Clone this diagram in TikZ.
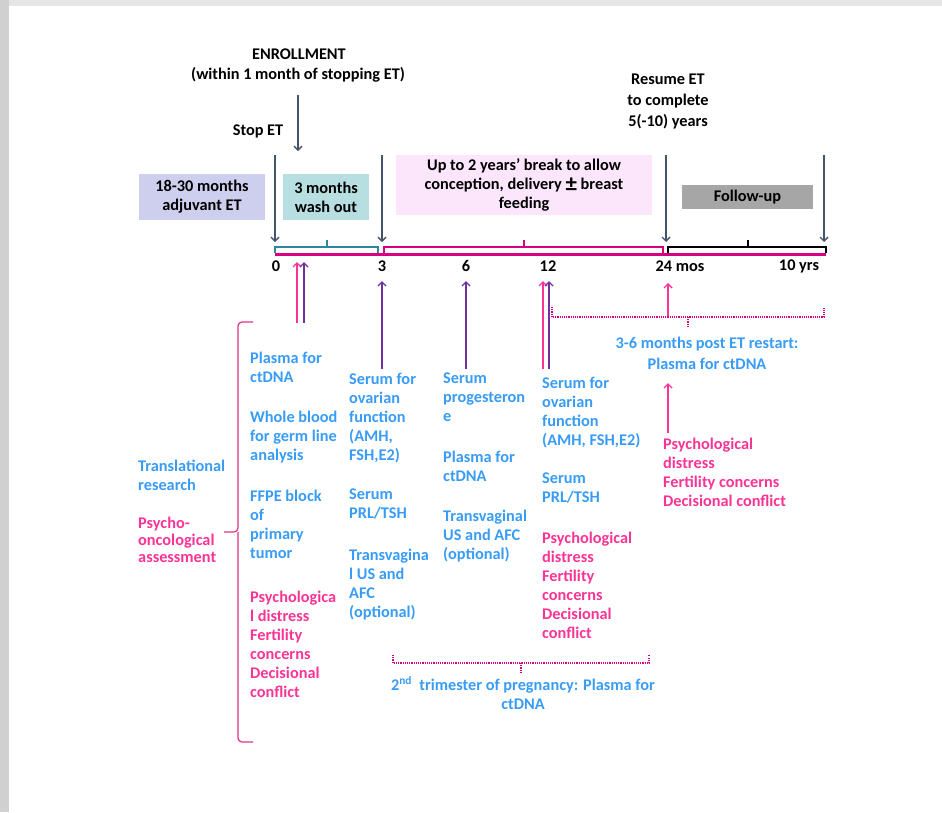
\documentclass[tikz,border=0pt]{standalone}
\usepackage{fontspec}
\setmainfont{Carlito}
\usetikzlibrary{arrows.meta}
\definecolor{slate}{RGB}{68,84,106}
\definecolor{txtblue}{RGB}{56,156,246}
\definecolor{txtpink}{RGB}{250,52,150}
\definecolor{lnpurple}{RGB}{112,48,160}
\definecolor{lnmagenta}{RGB}{214,0,128}
\definecolor{lnteal}{RGB}{49,133,156}
\definecolor{boxlav}{RGB}{206,206,238}
\definecolor{boxteal}{RGB}{183,222,224}
\definecolor{boxpink}{RGB}{252,230,252}
\definecolor{boxgray}{RGB}{166,166,166}
\tikzstyle{lbl}=[font=\fontsize{16.3}{19}\selectfont\bfseries, inner sep=0pt]
\tikzstyle{blutxt}=[lbl, text=txtblue, align=left, anchor=north west, yshift=-2pt]
\tikzstyle{pnktxt}=[lbl, text=txtpink, align=left, anchor=north west, yshift=-2pt]
\tikzstyle{phase}=[lbl, align=center, text=black]
\tikzstyle{downarrow}=[draw, -{Straight Barb[length=4pt,width=8pt]}, slate, line width=1.4pt]
\tikzstyle{uparrow}=[draw, -{Straight Barb[length=4pt,width=8pt]}, line width=1.4pt]
\tikzstyle{dotline}=[draw, lnmagenta, line width=1.1pt, dash pattern=on 1.1pt off 1.1pt]

\begin{document}
\begin{tikzpicture}[x=1pt, y=-1pt]

    \useasboundingbox (0,0) rectangle (942,812);
    \fill[gray!20] (0,0) rectangle (942,6);
    \fill[gray!37] (0,0) rectangle (9,812);

    % top labels
    \node[phase] (enrol) at (299,54) {ENROLLMENT};
    \node[phase] (within) at (298,75) {(within 1 month of stopping ET)};
    \node[phase] (stop) at (258,131) {Stop ET};
    \node[phase, font=\fontsize{16.3}{21}\selectfont\bfseries] (resume) at (668,101) {Resume ET\\to complete\\5(-10) years};

    % phase boxes
    \node[phase, fill=boxlav, minimum width=126pt, minimum height=46pt] (adj) at (202,197) {18-30 months\\adjuvant ET};
    \node[phase, fill=boxteal, minimum width=86pt, minimum height=46pt] (wash) at (326,197) {3 months\\wash out};
    \node[phase, fill=boxpink, minimum width=256pt, minimum height=60pt] (brk) at (524,185) {Up to 2 years’ break to allow\\conception, delivery {\fontsize{23}{19}\selectfont\raisebox{-1.5pt}{±}} breast\\feeding};
    \node[phase, fill=boxgray, minimum width=131pt, minimum height=24pt] (fup) at (747.5,197) {Follow-up};

    \foreach \n/\x/\ya/\yb in {en/298/95/151, s0/275/155/242, s3/382/155/242, s24/666/155/242, s10/824/155/242} {
        \coordinate (\n a) at (\x,\ya);
        \coordinate (\n b) at (\x,\yb);
        \path[downarrow] (\n a) -- (\n b);
    }

    % time line
    \draw[lnmagenta, line width=2.5pt] (275,254.5) -- (826,254.5);
    \draw[lnteal, line width=1.8pt] (275,253) |- (378,247) -- (378,253) (327,247) -- (327,240);
    \draw[lnmagenta, line width=1.8pt] (384,253) |- (663,247) -- (663,253) (524,247) -- (524,240);
    \draw[black, line width=1.8pt] (668,253) |- (826,247) -- (826,253) (748,247) -- (748,240);

    \foreach \x/\lab in {276/0, 382/3, 466/6, 548/12, 680/{24 mos}, 799/{10 yrs}}
        \node[phase] (t\x) at (\x,266) {\lab};

    % sampling arrows
    \foreach \n/\x/\ya/\yb/\c in {u0p/297/323/262/txtpink, u0v/304/323/262/lnpurple, u3/382/369/281/lnpurple, u6/466/369/281/lnpurple, u12p/543/369/281/txtpink, u12v/549/369/281/lnpurple, u24/668/316/283/txtpink, u24b/668/433/383/txtpink} {
        \coordinate (\n a) at (\x,\ya);
        \coordinate (\n b) at (\x,\yb);
        \path[uparrow, \c] (\n a) -- (\n b);
    }

    % dotted brackets
    \path[dotline] (552,307) |- (824,317) -- (824,307) (688,317) -- (688,327);
    \path[dotline] (393,655) |- (649,663) -- (649,655) (521,663) -- (521,672);
    \node[lbl, text=txtblue, align=center, font=\fontsize{16.3}{21}\selectfont\bfseries] (post) at (707,353) {3-6 months post ET restart:\\Plasma for ctDNA};
    \node[lbl, text=txtblue, align=center] (preg) at (523,693) {2\textsuperscript{nd}\ \ trimester of pregnancy: Plasma for\\ctDNA};

    % left brace
    \draw[txtpink!90!black, line width=1.2pt, rounded corners=4pt] (253,322) -| (238,532) -- (224,532);
    \draw[txtpink!90!black, line width=1.2pt, rounded corners=4pt] (253,742) -| (238,532);
    \node[blutxt] (trans) at (138,458) {Translational\\research};
    \node[pnktxt, font=\fontsize{16.3}{17}\selectfont\bfseries] (psy) at (138,515) {Psycho-\\oncological\\assessment};

    % column 0
    \node[blutxt] (c0a) at (250,350) {Plasma for\\ctDNA};
    \node[blutxt] (c0b) at (250,409) {Whole blood\\for germ line\\analysis};
    \node[blutxt] (c0c) at (250,488) {FFPE block\\of\\primary\\tumor};
    \node[pnktxt] (c0d) at (250,589) {Psychologica\\l distress\\Fertility\\concerns\\Decisional\\conflict};

    % column 3
    \node[blutxt] (c3a) at (349,371) {Serum for\\ovarian\\function\\(AMH,\\FSH,E2)};
    \node[blutxt] (c3b) at (349,487) {Serum\\PRL/TSH};
    \node[blutxt] (c3c) at (349,547) {Transvagina\\l US and\\AFC\\(optional)};

    % column 6
    \node[blutxt] (c6a) at (443,371) {Serum\\progesteron\\e};
    \node[blutxt] (c6b) at (443,449) {Plasma for\\ctDNA};
    \node[blutxt] (c6c) at (443,508) {Transvaginal\\US and AFC\\(optional)};

    % column 12
    \node[blutxt] (c12a) at (542,375) {Serum for\\ovarian\\function\\(AMH, FSH,E2)};
    \node[blutxt] (c12b) at (542,471) {Serum\\PRL/TSH};
    \node[pnktxt] (c12c) at (542,530) {Psychological\\distress\\Fertility\\concerns\\Decisional\\conflict};

    % after restart
    \node[pnktxt] (c24) at (663,436) {Psychological\\distress\\Fertility concerns\\Decisional conflict};

\end{tikzpicture}
\end{document}
